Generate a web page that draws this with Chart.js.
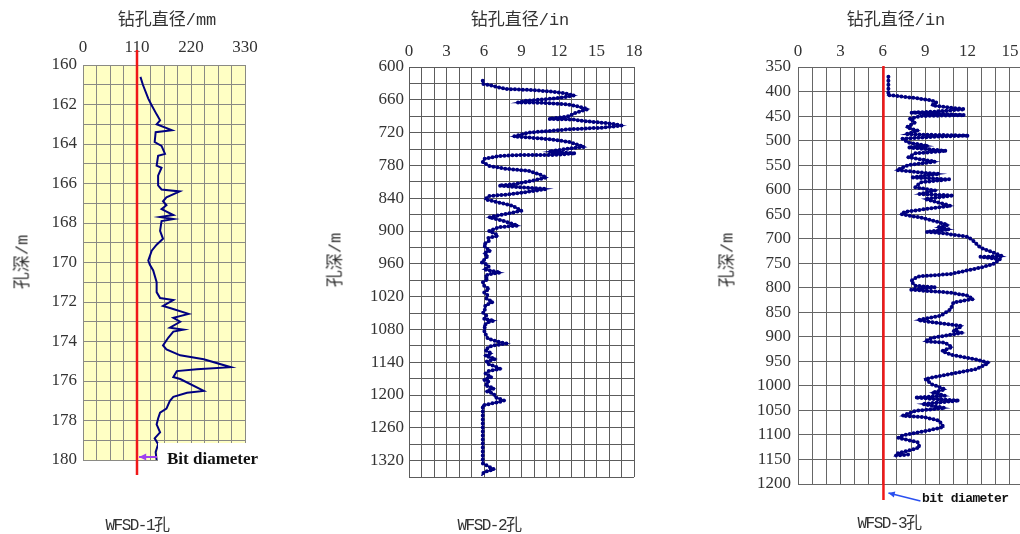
<!DOCTYPE html>
<html>
<head>
<meta charset="utf-8">
<script src="https://cdn.jsdelivr.net/npm/chart.js@4.4.1/dist/chart.umd.min.js"></script>
<style>
  html, body { margin: 0; padding: 0; background: #fff; width: 1020px; height: 534px; overflow: hidden; position: relative; }
  canvas { position: absolute; top: 0; }
  .t { position: absolute; transform: translate(-50%, -50%); white-space: nowrap; color: #333;
       font-family: "Liberation Mono", "Noto Sans CJK SC", monospace; font-size: 17px; }
  .v { transform: translate(-50%, -50%) rotate(-90deg); }
  .well { font-size: 16px; letter-spacing: -1.5px; }
  .note1 { position: absolute; transform: translateY(-50%); font-family: "Liberation Serif", serif;
           font-weight: bold; font-size: 17px; color: #111; white-space: nowrap; }
  .note3 { position: absolute; transform: translateY(-50%); font-family: "Liberation Mono", monospace;
           font-weight: bold; font-size: 13px; letter-spacing: -0.6px; color: #111; white-space: nowrap; }
</style>
</head>
<body>
<canvas id="c1" width="300" height="534" style="left:0px"></canvas>
<canvas id="c2" width="340" height="534" style="left:320px"></canvas>
<canvas id="c3" width="330" height="534" style="left:700px"></canvas>

<div class="t" style="left:167px;top:17px">钻孔直径/mm</div>
<div class="t" style="left:520px;top:17px">钻孔直径/in</div>
<div class="t" style="left:896px;top:17px">钻孔直径/in</div>
<div class="t v" style="left:20px;top:262px">孔深/m</div>
<div class="t v" style="left:333px;top:260px">孔深/m</div>
<div class="t v" style="left:725px;top:260px">孔深/m</div>
<div class="t well" style="left:137px;top:523px">WFSD-1孔</div>
<div class="t well" style="left:489px;top:523px">WFSD-2孔</div>
<div class="t well" style="left:889px;top:521px">WFSD-3孔</div>
<div class="note1" style="left:167px;top:459px">Bit diameter</div>
<div class="note3" style="left:922px;top:498px">bit diameter</div>

<script>
// WFSD-1: depth (m) vs diameter (mm)
const depth1 = [160.6, 161.0, 161.7, 162.0, 162.5, 162.8, 163.0, 163.3, 163.4, 163.9,
  164.1, 164.5, 164.6, 165.1, 165.2, 165.6, 166.1, 166.3, 166.4, 166.7,
  166.9, 167.1, 167.3, 167.6, 167.7, 167.8, 167.9, 168.4, 168.8, 169.1,
  169.4, 169.9, 170.1, 170.4, 171.0, 171.5, 171.8, 171.9, 172.2, 172.3,
  172.6, 172.8, 173.0, 173.3, 173.4, 173.5, 173.8, 174.2, 174.4, 174.7,
  174.9, 175.3, 175.4, 175.5, 175.8, 175.9, 176.5, 176.6, 176.8, 177.0,
  177.4, 177.6, 177.9, 178.2, 178.6, 178.9, 179.2, 179.6, 180.0];
const diam1 = [117, 122, 133, 139, 150, 157, 150, 181, 148, 146,
  160, 167, 153, 150, 160, 153, 153, 160, 197, 170,
  163, 170, 160, 184, 157, 184, 160, 157, 163, 150,
  140, 133, 136, 143, 150, 150, 157, 184, 163, 177,
  215, 184, 198, 177, 205, 184, 174, 163, 170, 198,
  246, 301, 232, 191, 184, 198, 246, 212, 184, 177,
  170, 157, 153, 150, 157, 146, 153, 148, 150];
const bit1 = 110;
const xLabels1 = [0, 110, 220, 330];
const yLabels1 = [160, 162, 164, 166, 168, 170, 172, 174, 176, 178, 180];

// WFSD-2: depth (m) vs diameter (in)
const depth2 = [625, 631, 633, 640, 642, 644, 647, 652, 656, 659,
  662, 665, 665, 667, 668, 671, 677, 684, 690, 695,
  696, 699, 703, 707, 711, 714, 717, 720, 727, 729,
  732, 737, 746, 750, 755, 758, 761, 761, 763, 768,
  774, 781, 786, 790, 796, 802, 808, 814, 817, 820,
  823, 828, 833, 836, 842, 848, 854, 863, 869, 875,
  881, 890, 893, 900, 905, 909, 913, 918, 924, 930,
  936, 941, 945, 951, 957, 961, 966, 970, 976, 979,
  982, 988, 994, 1000, 1006, 1012, 1018, 1024, 1030, 1036,
  1043, 1049, 1055, 1061, 1064, 1067, 1073, 1079, 1085, 1091,
  1097, 1103, 1106, 1109, 1112, 1118, 1124, 1128, 1134, 1139,
  1143, 1148, 1152, 1156, 1161, 1167, 1172, 1176, 1182, 1188,
  1193, 1198, 1204, 1210, 1213, 1216, 1219, 1268, 1325, 1336,
  1341, 1348];
const diam2 = [5.9, 5.9, 6.4, 7.7, 9.6, 10.9, 12.2, 13.2, 12.2, 10.9,
  9.3, 8.7, 10.1, 11.7, 12.5, 13.3, 14.3, 13.3, 12.8, 11.2,
  13.1, 14.1, 16.0, 17.0, 15.5, 12.8, 11.2, 9.6, 8.4, 9.6,
  11.2, 12.8, 14.0, 12.5, 11.2, 13.3, 11.5, 8.8, 7.2, 6.0,
  5.9, 6.4, 7.7, 9.6, 10.4, 11.0, 9.9, 8.5, 7.2, 8.8,
  11.0, 9.6, 8.0, 6.4, 6.1, 7.2, 8.3, 9.0, 7.7, 6.4,
  7.5, 8.7, 7.2, 6.4, 6.9, 7.1, 6.3, 6.4, 6.0, 6.1,
  6.5, 6.0, 6.3, 6.1, 5.8, 6.2, 6.4, 6.0, 7.3, 6.4,
  6.1, 6.3, 5.9, 6.0, 6.4, 6.0, 6.3, 6.2, 6.7, 6.1,
  6.1, 5.9, 6.2, 6.0, 6.8, 6.3, 6.0, 6.1, 6.0, 6.2,
  6.3, 7.2, 7.8, 6.8, 6.4, 6.1, 6.6, 6.1, 6.9, 6.2,
  6.3, 6.9, 7.3, 6.4, 6.1, 6.6, 6.0, 6.4, 6.1, 6.8,
  6.2, 6.8, 6.9, 7.6, 7.2, 6.5, 5.9, 5.9, 5.9, 6.8,
  6.0, 5.8];
const xLabels2 = [0, 3, 6, 9, 12, 15, 18];
const yLabels2 = [600, 660, 720, 780, 840, 900, 960, 1020, 1080, 1140, 1200, 1260, 1320];

// WFSD-3: depth (m) vs diameter (in)
const depth3 = [370, 402, 407, 410, 414, 418, 422, 428, 433, 436,
  441, 443, 448, 450, 456, 463, 473, 480, 487, 490,
  492, 496, 504, 511, 514, 521, 526, 534, 543, 550,
  560, 565, 568, 575, 579, 585, 595, 602, 609, 612,
  619, 633, 645, 650, 657, 666, 672, 677, 681, 686,
  689, 696, 704, 718, 728, 736, 737, 742, 752, 759,
  772, 777, 786, 796, 799, 804, 810, 816, 823, 830,
  844, 857, 866, 871, 878, 888, 892, 902, 909, 912,
  921, 929, 937, 946, 953, 966, 975, 986, 997, 1007,
  1014, 1020, 1024, 1030, 1037, 1045, 1051, 1061, 1064, 1071,
  1084, 1091, 1101, 1106, 1115, 1125, 1130, 1137, 1142, 1140];
const diam3 = [6.4, 6.4, 6.35, 7.3, 8.5, 9.4, 9.8, 9.5, 10.8, 11.8,
  9.7, 8.0, 11.8, 8.7, 7.9, 8.3, 7.7, 8.5, 7.6, 12.1,
  9.7, 7.4, 7.8, 9.2, 7.8, 10.5, 8.3, 7.8, 9.7, 7.8,
  7.0, 8.7, 10.0, 8.0, 10.7, 8.7, 8.3, 9.7, 8.6, 11.0,
  9.0, 10.8, 7.6, 7.3, 8.7, 9.9, 10.6, 9.9, 10.7, 9.1,
  10.3, 12.0, 12.4, 12.9, 13.8, 14.5, 12.9, 14.3, 13.8, 12.9,
  10.8, 8.5, 8.0, 8.3, 9.7, 8.0, 10.8, 12.0, 12.4, 11.0,
  10.8, 10.1, 8.5, 9.7, 11.6, 11.0, 11.6, 9.5, 9.0, 10.4,
  10.9, 10.2, 10.9, 12.6, 13.5, 12.6, 10.9, 9.0, 9.5, 10.4,
  9.5, 10.4, 8.3, 11.4, 8.8, 10.4, 8.3, 7.4, 9.0, 10.0,
  10.3, 9.2, 7.4, 7.1, 8.5, 8.6, 8.1, 7.1, 6.9, 7.8];
const bit3 = 6.05;
const xLabels3 = [0, 3, 6, 9, 12, 15];
const yLabels3 = [350, 400, 450, 500, 550, 600, 650, 700, 750, 800, 850, 900, 950, 1000, 1050, 1100, 1150, 1200];

const tickFont = { family: "Liberation Serif", size: 17 };
const navy = "#000080";

// draws the pale yellow plot background (panel 1 only)
const plotBg = {
  id: "plotBg",
  beforeDraw(chart, args, opts) {
    if (!opts.color) return;
    const { ctx, chartArea: a } = chart;
    ctx.save();
    ctx.fillStyle = opts.color;
    ctx.fillRect(a.left, a.top, a.right - a.left, a.bottom - a.top);
    ctx.restore();
  },
};

// red vertical line for the bit size + the little pointer arrows
const bitLine = {
  id: "bitLine",
  afterDraw(chart, args, opts) {
    if (opts.value == null) return;
    const { ctx, chartArea: a } = chart;
    const x = chart.scales.x.getPixelForValue(opts.value);
    ctx.save();

    if (opts.box) {
      // white label box in the lower right corner of the plot
      ctx.fillStyle = "#fff";
      ctx.fillRect(a.right - 87, a.bottom - 17, 88, 18);
    }

    ctx.strokeStyle = "#f01818";
    ctx.lineWidth = 2.5;
    ctx.beginPath();
    ctx.moveTo(x, opts.top);
    ctx.lineTo(x, opts.bottom);
    ctx.stroke();

    if (opts.arrow) {
      const ar = opts.arrow;
      const x0 = x + ar.dx0, y0 = ar.y0, x1 = x + ar.dx1, y1 = ar.y1;
      ctx.strokeStyle = ar.color;
      ctx.fillStyle = ar.color;
      ctx.lineWidth = ar.w;
      ctx.beginPath();
      ctx.moveTo(x0, y0);
      ctx.lineTo(x1, y1);
      ctx.stroke();
      const ang = Math.atan2(y1 - y0, x1 - x0);
      const hl = ar.head;
      ctx.beginPath();
      ctx.moveTo(x1, y1);
      ctx.lineTo(x1 - hl * Math.cos(ang - 0.45), y1 - hl * Math.sin(ang - 0.45));
      ctx.lineTo(x1 - hl * Math.cos(ang + 0.45), y1 - hl * Math.sin(ang + 0.45));
      ctx.closePath();
      ctx.fill();
    }
    ctx.restore();
  },
};

function makeChart(id, o) {
  const pts = o.depth.map((d, i) => ({ x: o.diam[i], y: d }));
  const datasets = [{
    data: pts,
    showLine: true,
    borderColor: navy,
    backgroundColor: navy,
    borderWidth: o.lw,
    pointRadius: 0,
    pointHoverRadius: 0,
    tension: 0,
  }];
  if (o.dots) {
    // logged readings show up as a chain of dots along the trace
    datasets.push({
      data: pts,
      showLine: true,
      borderColor: navy,
      borderWidth: 4,
      borderDash: [0, 4],
      borderCapStyle: "round",
      pointRadius: 0,
      pointHoverRadius: 0,
      tension: 0,
    });
  }
  return new Chart(document.getElementById(id), {
    type: "scatter",
    data: { datasets },
    options: {
      responsive: false,
      animation: false,
      events: [],
      layout: { padding: o.pad },
      plugins: {
        legend: { display: false },
        tooltip: { enabled: false },
        plotBg: { color: o.bg },
        bitLine: o.bit,
      },
      scales: {
        x: {
          type: "linear",
          position: "top",
          min: o.xMin, max: o.xMax,
          afterFit: (s) => { s.height = o.xH; },
          ticks: {
            stepSize: o.xStep, autoSkip: false, maxRotation: 0, minRotation: 0,
            padding: o.xPad, color: "#333", font: tickFont,
            callback: (v) => (o.xLabels.includes(v) ? v : ""),
          },
          grid: { color: o.grid, lineWidth: 1, drawTicks: false },
          border: { color: o.grid },
        },
        y: {
          type: "linear",
          reverse: true,
          min: o.yMin, max: o.yMax,
          afterFit: (s) => { s.width = o.yW; },
          ticks: {
            stepSize: o.yStep, autoSkip: false,
            padding: o.yPad, color: "#333", font: tickFont,
            callback: (v) => (o.yLabels.includes(v) ? v : ""),
          },
          grid: { color: o.grid, lineWidth: 1, drawTicks: false },
          border: { color: o.grid },
        },
      },
    },
    plugins: [plotBg, bitLine],
  });
}

makeChart("c1", {
  depth: depth1, diam: diam1, lw: 2, dots: false,
  pad: { left: 0, top: 0, right: 55, bottom: 74 },
  xMin: 0, xMax: 330, xStep: 27.5, xLabels: xLabels1, xH: 65, xPad: 7,
  yMin: 160, yMax: 180, yStep: 1, yLabels: yLabels1, yW: 83, yPad: 6,
  grid: "#8a8a84", bg: "#ffffc4",
  bit: {
    value: bit1, top: 50, bottom: 475, box: true,
    arrow: { dx0: 20, dx1: 2, y0: 457, y1: 457, color: "#a040f0", w: 2, head: 8 },
  },
});

makeChart("c2", {
  depth: depth2, diam: diam2, lw: 1.6, dots: true,
  pad: { left: 0, top: 0, right: 26, bottom: 57 },
  xMin: 0, xMax: 18, xStep: 1, xLabels: xLabels2, xH: 67, xPad: 5,
  yMin: 600, yMax: 1350, yStep: 30, yLabels: yLabels2, yW: 89, yPad: 5,
  grid: "#5c5c5c", bg: null,
  bit: {},
});

makeChart("c3", {
  depth: depth3, diam: diam3, lw: 1.6, dots: true,
  pad: { left: 0, top: 0, right: 6, bottom: 50 },
  xMin: 0, xMax: 16, xStep: 1, xLabels: xLabels3, xH: 67, xPad: 5,
  yMin: 350, yMax: 1200, yStep: 50, yLabels: yLabels3, yW: 98, yPad: 7,
  grid: "#666666", bg: null,
  bit: {
    value: bit3, top: 66, bottom: 500, box: false,
    arrow: { dx0: 37, dx1: 5, y0: 501, y1: 493, color: "#2a50f0", w: 1.5, head: 7 },
  },
});
</script>
</body>
</html>
